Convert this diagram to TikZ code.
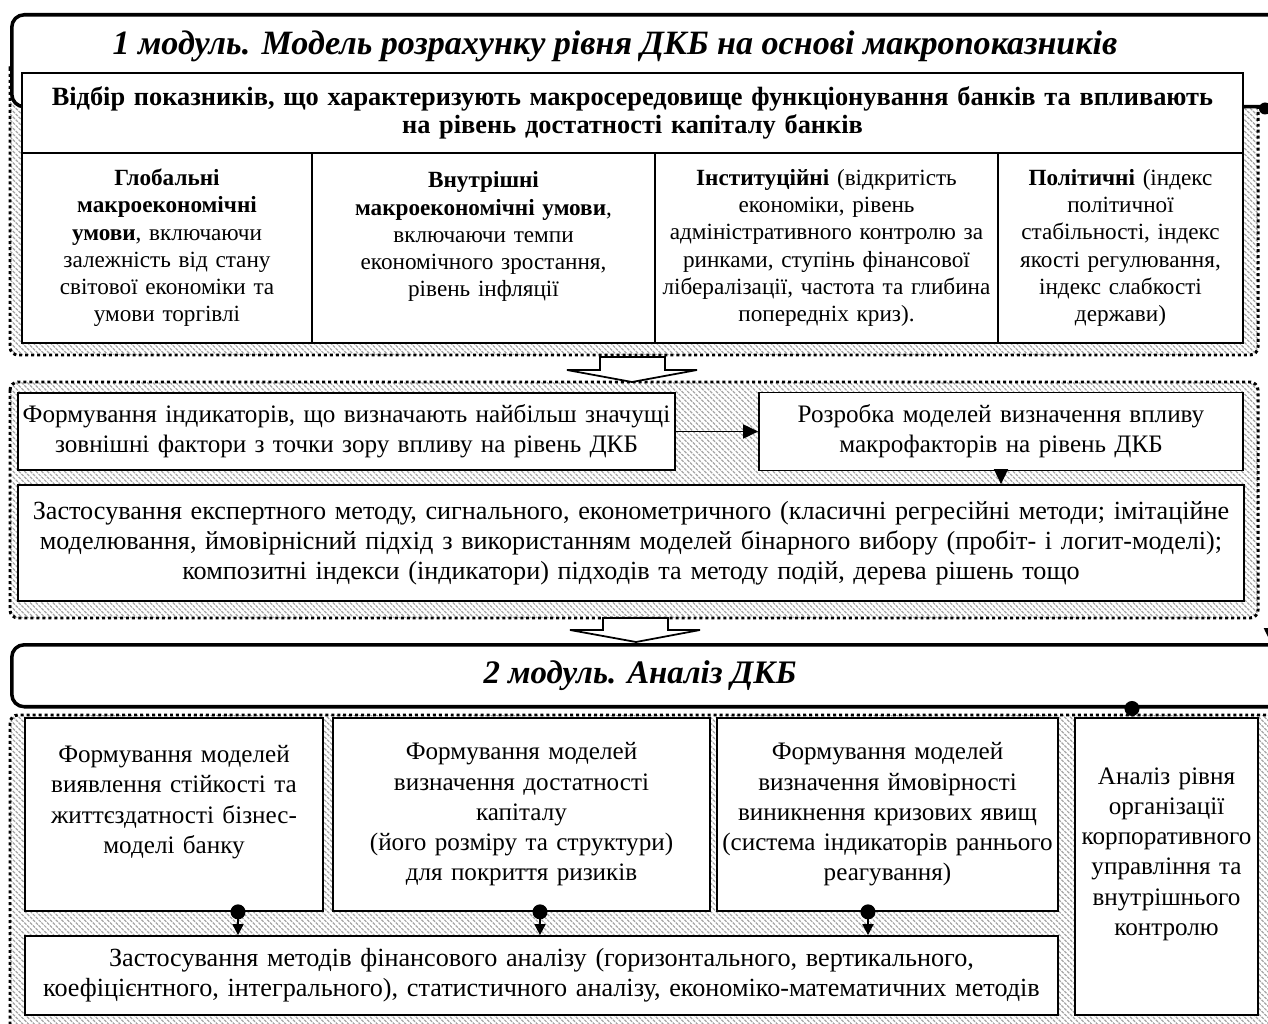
\documentclass[tikz,border=0pt]{standalone}
\usepackage{fontspec}
\setmainfont{Liberation Serif}
\usepackage{xcolor}
\usetikzlibrary{arrows.meta,patterns.meta}
\definecolor{hatch}{RGB}{165,165,165}
\newcommand{\titlefont}{\fontsize{19.4}{22}\selectfont\bfseries\itshape}
\newcommand{\subtitlefont}{\fontsize{18.7}{21}\selectfont\bfseries\itshape}
\newcommand{\selfont}{\fontsize{15}{15.5}\selectfont\bfseries}
\newcommand{\colfont}{\fontsize{13.2}{15.5}\selectfont}
\newcommand{\boxfont}{\fontsize{14.3}{17.2}\selectfont}
\newcommand{\widefont}{\fontsize{14.9}{17.2}\selectfont}
\tikzstyle{box}=[draw, fill=white, line width=1pt, align=center, inner sep=0pt]
\tikzstyle{module}=[draw, fill=white, line width=2pt, rounded corners=0.25cm, anchor=north west]
\tikzset{panel/.style={draw, line width=1.7pt, dash pattern=on 1.7pt off 1.7pt, rounded corners=0.16cm, pattern={Lines[angle=-45, distance=2.3pt, line width=0.7pt]}, pattern color=hatch}}
\tikzset{bigarrow/.style={draw, fill=white, line width=1pt}}
\tikzset{flow/.style={-{Triangle[length=0.3cm,width=0.28cm]}, line width=1pt}}
\tikzset{dotflow/.style={{Circle[length=0.3cm]}-{Triangle[length=0.22cm,width=0.22cm]}, shorten <=-0.15cm, line width=1pt}}

\begin{document}
\begin{tikzpicture}[x=0.02cm, y=-0.02cm]
  \useasboundingbox (0,0) rectangle (1268,1024);

  %% 1 module
  \draw[panel] (10,60) rectangle (1258,355);
  \draw (10,13) node[module, minimum width=26cm, minimum height=1.84cm] (M1) {};
  \draw (615,46) node[font=\titlefont] (T1) {1 модуль. Модель розрахунку рівня ДКБ на основі макропоказників};

  \draw (632.5,113) node[box, minimum width=24.42cm, minimum height=1.6cm, text width=24.3cm, font=\selfont] (Sel) {Відбір показників, що характеризують макросередовище функціонування банків та впливають\\на рівень достатності капіталу банків};

  \draw (167,248) node[box, minimum width=5.8cm, minimum height=3.8cm, text width=5.7cm, font=\colfont] (C1) {\textbf{Глобальні}\\\textbf{макроекономічні}\\\textbf{умови}, включаючи\\залежність від стану\\світової економіки та\\умови торгівлі};
  \draw (483.5,248) node[box, minimum width=6.86cm, minimum height=3.8cm, text width=6.8cm, font=\colfont] (C2) {\textbf{Внутрішні}\\\textbf{макроекономічні умови},\\включаючи темпи\\економічного зростання,\\рівень інфляції\\\mbox{}};
  \draw (826.5,248) node[box, minimum width=6.86cm, minimum height=3.8cm, text width=6.8cm, font=\colfont] (C3) {\textbf{Інституційні} (відкритість\\економіки, рівень\\адміністративного контролю за\\ринками, ступінь фінансової\\лібералізації, частота та глибина\\попередніх криз).};
  \draw (1120.5,248) node[box, minimum width=4.9cm, minimum height=3.8cm, text width=4.8cm, font=\colfont] (C4) {\textbf{Політичні} (індекс\\політичної\\стабільності, індекс\\якості регулювання,\\індекс слабкості\\держави)};

  %% models of macro factors
  \draw[panel] (10,382) rectangle (1258,618);
  \draw[bigarrow] (600,357) -- (665,357) -- (665,370) -- (697,370) -- (632,382) -- (567,370) -- (600,370) -- cycle;

  \draw (346.5,431.5) node[box, minimum width=13.14cm, minimum height=1.54cm, text width=13cm, font=\boxfont] (A) {Формування індикаторів, що визначають найбільш значущі\\зовнішні фактори з точки зору впливу на рівень ДКБ};
  \draw (1001,431.5) node[box, minimum width=9.68cm, minimum height=1.56cm, text width=9.6cm, font=\boxfont] (B) {Розробка моделей визначення впливу\\макрофакторів на рівень ДКБ};
  \draw (631,543) node[box, minimum width=24.52cm, minimum height=2.32cm, text width=24.5cm, font=\widefont] (C) {Застосування експертного методу, сигнального, економетричного (класичні регресійні методи; імітаційне\\моделювання, ймовірнісний підхід з використанням моделей бінарного вибору (пробіт- і логит-моделі);\\композитні індекси (індикатори) підходів та методу подій, дерева рішень тощо};

  \draw[flow] (A) -- (B);
  \draw[flow] (B.south) -- (B.south |- C.north);

  %% 2 module
  \draw[panel] (10,715) rectangle (1285,1060);
  \draw[bigarrow] (603,618) -- (668,618) -- (668,630) -- (700,630) -- (636,642) -- (570,630) -- (603,630) -- cycle;
  \draw (10,643) node[module, minimum width=26cm, minimum height=1.24cm] (M2) {};
  \draw (640,676) node[font=\subtitlefont] (T2) {2 модуль. Аналіз ДКБ};

  \fill (M1.south -| 1265,0) circle[radius=0.12cm];
  \draw[flow, line width=1.5pt] (M1.south -| 1265,0) -| (M2.north -| 1271,0);

  \draw (174,814.5) node[box, minimum width=5.96cm, minimum height=3.86cm, text width=5.9cm, font=\boxfont] (D1) {Формування моделей\\виявлення стійкості та\\життєздатності бізнес-\\моделі банку\\\mbox{}};
  \draw (521.5,814.5) node[box, minimum width=7.54cm, minimum height=3.86cm, text width=7.5cm, font=\boxfont] (D2) {Формування моделей\\визначення достатності\\капіталу\\(його розміру та структури)\\для покриття ризиків};
  \draw (887.5,814.5) node[box, minimum width=6.82cm, minimum height=3.86cm, text width=6.8cm, font=\boxfont] (D3) {Формування моделей\\визначення ймовірності\\виникнення кризових явищ\\(система індикаторів раннього\\реагування)};
  \draw (1166.5,866.5) node[box, minimum width=3.66cm, minimum height=5.94cm, text width=3.64cm, font=\boxfont] (D4) {Аналіз рівня\\організації\\корпоративного\\управління та\\внутрішнього\\контролю\\\mbox{}};
  \draw (541.5,975.5) node[box, minimum width=20.66cm, minimum height=1.58cm, text width=20.6cm, font=\widefont] (E) {Застосування методів фінансового аналізу (горизонтального, вертикального,\\коефіцієнтного, інтегрального), статистичного аналізу, економіко-математичних методів};

  \draw[dotflow] (M2.south -| 1132,0) -- (D4.north -| 1132,0);
  \draw[dotflow] (D1.south -| 238,0) -- (E.north -| 238,0);
  \draw[dotflow] (D2.south -| 540,0) -- (E.north -| 540,0);
  \draw[dotflow] (D3.south -| 868,0) -- (E.north -| 868,0);
\end{tikzpicture}
\end{document}
